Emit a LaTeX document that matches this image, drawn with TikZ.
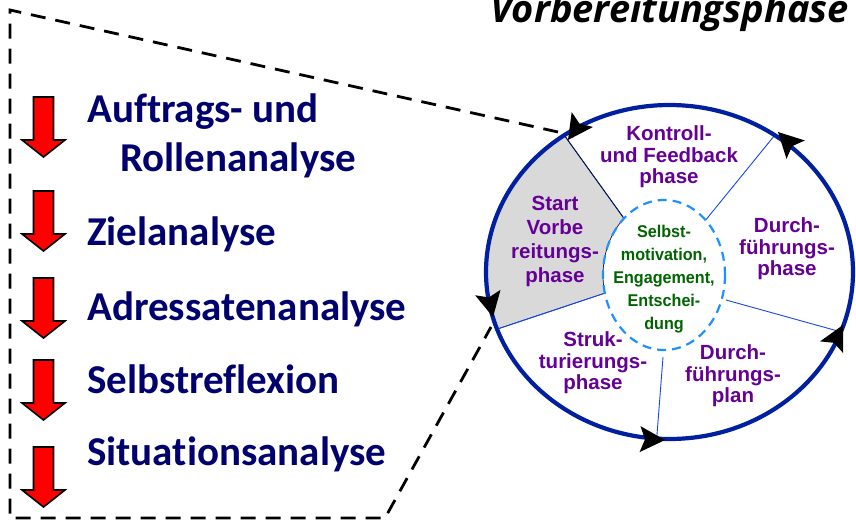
\documentclass[tikz,border=0pt]{standalone}
\usepackage{fontspec}
\usetikzlibrary{calc}
\newfontfamily\listfont[Ligatures=NoCommon]{Carlito}
\newfontfamily\ringfont{Liberation Sans}
\newfontfamily\corefont[FakeStretch=0.95]{Liberation Sans}
\newfontfamily\titlefont{Open Sans}
\definecolor{listblue}{RGB}{0,0,110}
\definecolor{ringblue}{RGB}{0,32,160}
\definecolor{sepblue}{RGB}{20,70,240}
\definecolor{phasepurple}{RGB}{100,0,150}
\definecolor{coregreen}{RGB}{0,100,0}
\definecolor{coredash}{RGB}{30,144,255}
\definecolor{startgrey}{RGB}{217,217,217}
\begin{document}
\begin{tikzpicture}[x=1pt,y=-1pt,
  listtext/.style={font=\listfont\bfseries\fontsize{41}{42}\selectfont, text=listblue, inner sep=0, anchor=base west},
  phasetext/.style={font=\ringfont\bfseries\fontsize{20.5}{21.5}\selectfont, text=phasepurple, align=center, inner sep=0},
  coretext/.style={font=\corefont\bfseries\fontsize{17}{23}\selectfont, text=coregreen, align=center, inner sep=0},
  ring/.style={draw=ringblue, line width=4.2pt},
  separator/.style={draw=sepblue, line width=0.9pt},
  coreline/.style={draw=coredash, line width=2.2pt, dash pattern=on 9pt off 6pt},
  frame/.style={draw=black, line width=2.8pt, dash pattern=on 15pt off 10pt},
  redarrow/.pic={\draw[fill=red, line width=1.6pt, line join=miter]
     (-10,0) -- (10,0) -- (10,43) -- (21.5,43) -- (0,60) -- (-21.5,43) -- (-10,43) -- cycle;},
  cyclehead/.pic={\fill[black] (0,0) -- (-25,-13) -- (-20,0) -- (-25,13) -- cycle;}
]
\useasboundingbox (0,0) rectangle (856,522);

% title
\node[font=\titlefont\bfseries\itshape\fontsize{38}{40}\selectfont, anchor=base east, inner sep=0] (title) at (849,23) {Vorbereitungsphase};

% centres of the cycle
\coordinate (C) at (669.5,272);
\coordinate (Ci) at (664,275);

% separator end points
\coordinate (o1) at ($(C)+(-125:183.5 and 167)$);
\coordinate (i1) at ($(Ci)+(-131:61 and 75)$);
\coordinate (o2) at ($(C)+(-55:183.5 and 167)$);
\coordinate (i2) at ($(Ci)+(-47:61 and 75)$);
\coordinate (o3) at ($(C)+(21:183.5 and 167)$);
\coordinate (i3) at (726,300);
\coordinate (o4) at ($(C)+(94:183.5 and 167)$);
\coordinate (i4) at (663,357);
\coordinate (o5) at ($(C)+(-200:183.5 and 167)$);
\coordinate (i5) at ($(Ci)+(-194:61 and 75)$);

% grey start sector
\filldraw[fill=startgrey, draw=black, line width=0.6pt]
  (o1) arc[start angle=-125, end angle=-200, x radius=183.5, y radius=167]
  -- (i5) arc[start angle=-194, end angle=-131, x radius=61, y radius=75] -- cycle;

% sector borders
\draw[separator, draw=ringblue!60!black] (o1) -- (i1);
\draw[separator] (o2) -- (i2);
\draw[separator] (o3) -- (i3);
\draw[separator] (o4) -- (i4);
\draw[separator] (o5) -- (i5);

% inner dashed ring and outer ring
\draw[coreline] (Ci) ellipse [x radius=61, y radius=75];
\draw[ring] (C) ellipse [x radius=183.5, y radius=167];

% arrow heads of the cycle (tip position, heading)
\coordinate (t1) at (568,140);
\coordinate (t2) at (778,132);
\coordinate (t3) at (843,325);
\coordinate (t4) at (665,440);
\coordinate (t5) at (493,317);
\pic[rotate=-125] at (t1) {cyclehead};
\pic[rotate=135] at (t2) {cyclehead};
\pic[rotate=63] at (t3) {cyclehead};
\pic[rotate=-2] at (t4) {cyclehead};
\pic[rotate=-78] at (t5) {cyclehead};

% dashed frame around the list
\coordinate (k1) at (558,132);
\coordinate (k2) at (491,327);
\coordinate (f1) at (10,10);
\coordinate (f2) at (10,518);
\coordinate (f3) at (385,518);
\draw[frame] (k1) -- (f1) -- (f2) -- (f3) -- (k2);

% phase labels
\node[phasetext] (kontroll) at (669,157) {Kontroll-\\und Feedback\\phase};
\node[phasetext, font=\ringfont\bfseries\fontsize{20.5}{24}\selectfont] (start) at (555,241) {Start\\Vorbe\\reitungs-\\phase};
\node[phasetext] (durchphase) at (787,249) {Durch-\\führungs-\\phase};
\node[phasetext] (struktur) at (593,363) {Struk-\\turierungs-\\phase};
\node[phasetext] (durchplan) at (733,376) {Durch-\\führungs-\\plan};
\node[coretext] (core) at (664,279) {Selbst-\\motivation,\\Engagement,\\Entschei-\\dung};

% list of analysis steps
\pic at (43.5,97) {redarrow};
\pic at (43.5,191) {redarrow};
\pic at (43.5,278) {redarrow};
\pic at (43.5,360) {redarrow};
\pic at (43.5,447) {redarrow};
\node[listtext] (auftrag) at (87,122) {Auftrags- und};
\node[listtext] (rollen) at (120,171) {Rollenanalyse};
\node[listtext] (ziel) at (87,245) {Zielanalyse};
\node[listtext] (adressat) at (87,320) {Adressatenanalyse};
\node[listtext] (selbst) at (87,393) {Selbstreflexion};
\node[listtext] (situation) at (87,465) {Situationsanalyse};
\end{tikzpicture}
\end{document}
